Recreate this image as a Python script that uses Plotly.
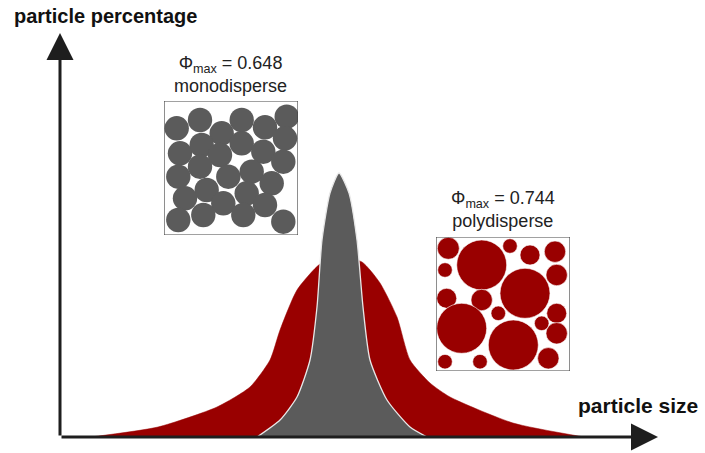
import plotly.graph_objects as go

# ---- distribution curves (particle size vs particle percentage, arbitrary units) ----
poly_size = [31, 98, 157, 190, 210, 220, 237, 260, 280, 302, 320, 337, 350, 370, 390, 453, 524]
poly_pct = [0, 10, 30, 50, 77, 107, 147, 173, 180, 175, 154, 120, 77, 54, 40, 14, 0]

mono_size = [197, 220, 237, 250, 257, 262, 270, 279, 289, 297, 303, 310, 327, 350, 367]
mono_pct = [0, 17, 40, 77, 130, 197, 244, 264, 244, 197, 130, 77, 37, 10, 0]

# ---- packing illustrations (box-local units, y measured from top) ----
mono_cx = [12.7, 36, 57.7, 77.7, 101, 122.7, 121, 37.7, 77.7, 99.3, 16, 56, 36, 64.3,
           87.7, 119.3, 14.3, 107.7, 42.7, 82.7, 21, 59.3, 101, 14.3, 39.3, 79.3, 119.3]
mono_cy = [27.3, 19, 32.3, 19, 26.3, 15.7, 37.3, 44, 42.3, 50.7, 52.3, 54, 65.7, 75.7,
           70.7, 60.7, 75.7, 82.3, 89, 92.3, 97.3, 102.3, 104, 119, 114, 114, 120.7]
mono_r = [12.2] * len(mono_cx)

poly_cx = [12.3, 45.7, 74, 94, 119, 9, 120.7, 89, 10.7, 45.7, 62.3, 120.7, 25.7, 77.3,
           105.7, 120.7, 9, 44, 112.3]
poly_cy = [11.3, 28, 9, 18, 14.7, 33, 38, 56.3, 61.3, 63, 76.3, 76.3, 91.3, 108,
           86.3, 96.3, 124.7, 124.7, 121.3]
poly_r = [11, 25, 7.3, 10, 10.7, 7.3, 10.7, 25, 10, 10.7, 7.3, 10, 25, 25,
          7.3, 10.7, 7.3, 7.3, 10.7]

mono_label = "Φ<sub>max</sub> = 0.648<br>monodisperse"
poly_label = "Φ<sub>max</sub> = 0.744<br>polydisperse"
y_title = "particle percentage"
x_title = "particle size"

RED = "#990000"
GREY = "#5b5b5b"
AX = "#1e1e1e"
W, H = 705, 453
BOX = 134
FONT = "Liberation Sans, Arial, sans-serif"

fig = go.Figure()

fig.add_trace(go.Scatter(x=poly_size, y=poly_pct, mode="lines", fill="tozeroy",
                         fillcolor=RED, line=dict(color=RED, width=0.5, shape="spline", smoothing=0.6),
                         hoverinfo="skip", showlegend=False))
fig.add_trace(go.Scatter(x=mono_size, y=mono_pct, mode="lines", fill="tozeroy",
                         fillcolor=GREY, line=dict(color="#e8e8e8", width=1.3, shape="spline", smoothing=0.6),
                         hoverinfo="skip", showlegend=False))

fig.add_trace(go.Scatter(x=mono_cx, y=mono_cy, mode="markers", xaxis="x2", yaxis="y2",
                         marker=dict(size=[2 * r for r in mono_r], color=GREY, opacity=1,
                                     line=dict(width=0)),
                         hoverinfo="skip", showlegend=False))
fig.add_trace(go.Scatter(x=poly_cx, y=poly_cy, mode="markers", xaxis="x3", yaxis="y3",
                         marker=dict(size=[2 * r for r in poly_r], color=RED, opacity=1,
                                     line=dict(width=0.6, color="white")),
                         hoverinfo="skip", showlegend=False))

hidden = dict(visible=False, showgrid=False, zeroline=False)


def box_axes(left, top):
    xd = [left / W, (left + BOX) / W]
    yd = [(H - top - BOX) / H, (H - top) / H]
    return xd, yd


mx, my = box_axes(164, 101)
px, py = box_axes(436, 237)

fig.update_layout(
    width=W, height=H,
    margin=dict(l=0, r=0, t=0, b=0, autoexpand=False),
    paper_bgcolor="white", plot_bgcolor="white",
    xaxis=dict(range=[-60, 645], domain=[0, 1], **hidden),
    yaxis=dict(range=[-16, 437], domain=[0, 1], **hidden),
    xaxis2=dict(range=[0, BOX], domain=mx, anchor="y2", **hidden),
    yaxis2=dict(range=[BOX, 0], domain=my, anchor="x2", **hidden),
    xaxis3=dict(range=[0, BOX], domain=px, anchor="y3", **hidden),
    yaxis3=dict(range=[BOX, 0], domain=py, anchor="x3", **hidden),
    font=dict(family=FONT, color="#222"),
)

# box outlines
for xr, yr in (("x2", "y2"), ("x3", "y3")):
    fig.add_shape(type="rect", xref=xr, yref=yr, x0=0, x1=BOX, y0=0, y1=BOX,
                  line=dict(color="#444", width=1.2), layer="above")

# axes with arrows
fig.add_annotation(x=0, y=404, ax=0, ay=0, xref="x", yref="y", axref="x", ayref="y",
                   showarrow=True, arrowhead=2, arrowsize=1.8, arrowwidth=3, arrowcolor=AX, text="")
fig.add_annotation(x=598, y=0, ax=0, ay=0, xref="x", yref="y", axref="x", ayref="y",
                   showarrow=True, arrowhead=2, arrowsize=1.8, arrowwidth=3, arrowcolor=AX, text="")

# titles
fig.add_annotation(x=12 / W, y=1 - 16 / H, xref="paper", yref="paper", text=y_title,
                   showarrow=False, xanchor="left", yanchor="middle",
                   font=dict(size=20, color="#111", family=FONT, weight="bold"))
fig.add_annotation(x=700 / W, y=1 - 405 / H, xref="paper", yref="paper", text=x_title,
                   showarrow=False, xanchor="right", yanchor="middle",
                   font=dict(size=21, color="#111", family=FONT, weight="bold"))

# packing labels
fig.add_annotation(x=231 / W, y=1 - 75 / H, xref="paper", yref="paper", text=mono_label,
                   showarrow=False, xanchor="center", yanchor="middle", align="center",
                   font=dict(size=18, color="#222"))
fig.add_annotation(x=503 / W, y=1 - 209 / H, xref="paper", yref="paper", text=poly_label,
                   showarrow=False, xanchor="center", yanchor="middle", align="center",
                   font=dict(size=18, color="#222"))

fig.write_html("out.html", config={"displayModeBar": False, "staticPlot": True},
               post_script="document.body.style.margin='0';")
